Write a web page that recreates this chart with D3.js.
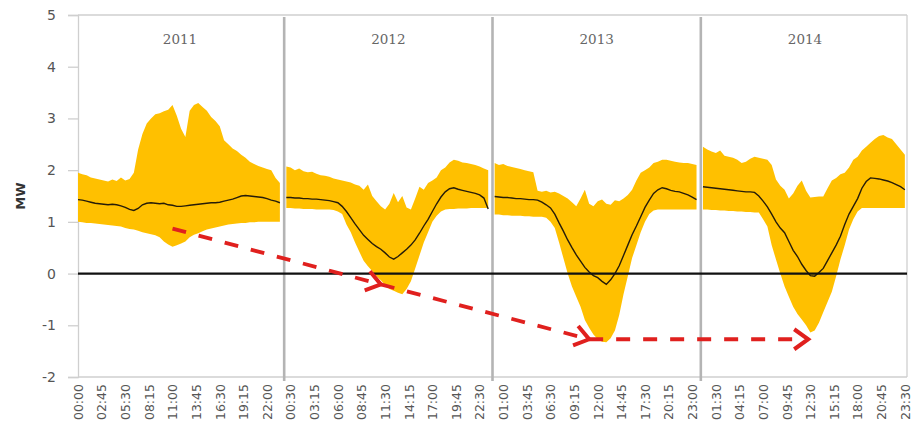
<!DOCTYPE html>
<html>
<head>
<meta charset="utf-8">
<script src="https://cdn.jsdelivr.net/npm/d3@7"></script>
<style>
  html, body { margin: 0; padding: 0; background: #fff; }
  svg { display: block; }
</style>
</head>
<body>
<svg id="chart" width="912" height="434"></svg>
<script>
// Daily net load profile per year: half-hourly max / mean / min (MW)
const years = ["2011", "2012", "2013", "2014"];

const max2011 = [1.95,1.92,1.90,1.86,1.84,1.82,1.80,1.78,1.82,1.79,1.86,1.80,1.83,1.95,2.40,2.70,
                 2.90,3.00,3.08,3.10,3.14,3.17,3.26,3.05,2.80,2.64,3.15,3.26,3.30,3.22,3.15,3.03,
                 2.95,2.85,2.58,2.50,2.42,2.37,2.30,2.24,2.16,2.12,2.08,2.05,2.02,2.00,1.85,1.75];
const mean2011 = [1.43,1.42,1.40,1.38,1.36,1.35,1.34,1.33,1.34,1.33,1.31,1.28,1.24,1.22,1.26,1.33,
                  1.36,1.37,1.36,1.35,1.36,1.33,1.32,1.30,1.30,1.31,1.32,1.33,1.34,1.35,1.36,1.37,
                  1.37,1.38,1.40,1.42,1.44,1.47,1.50,1.51,1.50,1.49,1.48,1.47,1.45,1.42,1.40,1.37];
const min2011 = [1.00,0.99,0.98,0.98,0.97,0.96,0.95,0.94,0.93,0.92,0.91,0.88,0.86,0.85,0.83,0.80,
                 0.78,0.76,0.74,0.70,0.62,0.56,0.52,0.55,0.58,0.62,0.70,0.75,0.78,0.82,0.85,0.87,
                 0.89,0.91,0.93,0.95,0.96,0.97,0.98,0.98,0.99,0.99,1.00,1.00,1.00,1.00,1.00,1.00];

const max2012 = [2.07,2.05,2.00,2.03,1.98,1.96,1.97,1.93,1.90,1.89,1.87,1.84,1.82,1.80,1.78,1.76,
                 1.72,1.70,1.62,1.72,1.50,1.40,1.30,1.24,1.35,1.56,1.38,1.50,1.28,1.24,1.45,1.68,
                 1.62,1.75,1.80,1.86,2.00,2.05,2.15,2.20,2.18,2.15,2.14,2.12,2.10,2.07,2.03,2.00];
const mean2012 = [1.47,1.47,1.46,1.46,1.45,1.45,1.44,1.44,1.43,1.42,1.41,1.39,1.37,1.30,1.20,1.08,
                  0.96,0.85,0.74,0.66,0.58,0.52,0.47,0.40,0.32,0.28,0.33,0.40,0.47,0.55,0.65,0.78,
                  0.92,1.05,1.20,1.35,1.48,1.58,1.64,1.66,1.63,1.61,1.59,1.57,1.55,1.52,1.46,1.25];
const min2012 = [1.27,1.27,1.26,1.26,1.25,1.25,1.25,1.24,1.24,1.24,1.24,1.23,1.20,1.15,0.95,0.80,
                 0.60,0.42,0.25,0.14,0.05,-0.05,-0.13,-0.22,-0.30,-0.33,-0.37,-0.40,-0.30,-0.15,0.10,0.35,
                 0.60,0.80,1.00,1.12,1.20,1.24,1.25,1.25,1.26,1.26,1.26,1.27,1.27,1.27,1.27,1.27];

const max2013 = [2.14,2.10,2.12,2.08,2.06,2.04,2.02,2.00,1.98,1.96,1.60,1.58,1.60,1.57,1.58,1.55,
                 1.50,1.45,1.38,1.30,1.45,1.62,1.35,1.30,1.40,1.43,1.35,1.33,1.42,1.40,1.45,1.52,
                 1.62,1.80,1.95,2.00,2.05,2.14,2.16,2.20,2.20,2.18,2.16,2.15,2.14,2.14,2.12,2.10];
const mean2013 = [1.49,1.48,1.47,1.47,1.46,1.45,1.45,1.44,1.43,1.43,1.42,1.38,1.33,1.27,1.15,0.98,
                  0.82,0.65,0.50,0.36,0.24,0.12,0.03,-0.04,-0.08,-0.15,-0.21,-0.12,0.00,0.15,0.35,0.55,
                  0.75,0.92,1.10,1.28,1.42,1.55,1.62,1.66,1.64,1.61,1.59,1.58,1.55,1.52,1.48,1.43];
const min2013 = [1.14,1.14,1.13,1.13,1.12,1.12,1.12,1.11,1.11,1.10,1.10,1.10,1.08,1.00,0.88,0.60,
                 0.30,0.00,-0.25,-0.45,-0.64,-0.90,-1.05,-1.18,-1.27,-1.32,-1.33,-1.25,-1.10,-0.80,-0.40,-0.05,
                 0.30,0.55,0.80,1.00,1.15,1.22,1.24,1.24,1.24,1.24,1.24,1.24,1.24,1.24,1.24,1.24];

const max2014 = [2.45,2.40,2.36,2.33,2.38,2.28,2.26,2.24,2.20,2.14,2.16,2.22,2.26,2.24,2.22,2.20,
                 2.10,1.82,1.70,1.62,1.45,1.55,1.70,1.80,1.60,1.47,1.48,1.49,1.49,1.65,1.80,1.85,
                 1.92,1.95,2.05,2.20,2.26,2.38,2.45,2.53,2.60,2.66,2.68,2.63,2.60,2.50,2.40,2.30];
const mean2014 = [1.68,1.67,1.66,1.65,1.64,1.63,1.62,1.61,1.60,1.59,1.58,1.58,1.57,1.50,1.40,1.29,
                  1.15,1.00,0.88,0.79,0.62,0.45,0.33,0.18,0.06,-0.04,-0.05,0.02,0.10,0.25,0.40,0.55,
                  0.72,0.95,1.15,1.30,1.45,1.65,1.78,1.85,1.84,1.83,1.81,1.79,1.76,1.72,1.68,1.62];
const min2014 = [1.24,1.24,1.23,1.23,1.22,1.22,1.21,1.21,1.20,1.20,1.19,1.19,1.18,1.18,1.05,0.91,
                 0.55,0.27,0.00,-0.25,-0.45,-0.64,-0.78,-0.89,-1.00,-1.14,-1.10,-0.95,-0.75,-0.55,-0.35,-0.05,
                 0.27,0.55,0.85,1.05,1.20,1.27,1.27,1.27,1.27,1.27,1.27,1.27,1.27,1.27,1.27,1.27];

const maxSeries  = [max2011, max2012, max2013, max2014];
const meanSeries = [mean2011, mean2012, mean2013, mean2014];
const minSeries  = [min2011, min2012, min2013, min2014];

// Category axis: 96 quarter-hour slots per year, plus one empty slot as separator
const slotsPerDay = 96;
const slotsPerPanel = 97;
const slotsPerSample = 2; // series are sampled every half hour
const tickEvery = 11;
const xTickLabels = ["00:00","02:45","05:30","08:15","11:00","13:45","16:30","19:15","22:00",
                     "00:30","03:15","06:00","08:45","11:30","14:15","17:00","19:45","22:30",
                     "01:00","03:45","06:30","09:15","12:00","14:45","17:30","20:15","23:00",
                     "01:30","04:15","07:00","09:45","12:30","15:15","18:00","20:45","23:30"];
const yTicks = [-2, -1, 0, 1, 2, 3, 4, 5];
const yLabel = "MW";

// Trend arrows: [year index, quarter-hour slot, MW]
const arrowStops = [[0, 44, 0.87], [1, 44, -0.21], [2, 44, -1.27], [3, 49, -1.27]];

(function draw() {
  const svg = d3.select("#chart");
  const plotL = 78, plotR = 907, plotT = 15, plotB = 377;
  const nSlots = slotsPerPanel * years.length - 1;

  const x = d3.scaleLinear().domain([0, nSlots - 1]).range([plotL, plotR]);
  const y = d3.scaleLinear().domain([-2, 5]).range([plotB, plotT]);
  const gx = (p, slot) => x(p * slotsPerPanel + slot);

  // Frame
  const frame = svg.append("g").attr("stroke", "#cfcfcf").attr("stroke-width", 1.3).attr("fill", "none");
  frame.append("line").attr("x1", plotL).attr("x2", plotR).attr("y1", plotT).attr("y2", plotT);
  frame.append("line").attr("x1", plotR).attr("x2", plotR).attr("y1", plotT).attr("y2", plotB);
  frame.append("line").attr("x1", plotL).attr("x2", plotR).attr("y1", plotB).attr("y2", plotB);

  // Y axis
  const yAxis = svg.append("g")
    .attr("transform", `translate(${plotL},0)`)
    .call(d3.axisLeft(y).tickValues(yTicks).tickSize(10).tickPadding(12).tickFormat(d => String(d)));
  yAxis.select(".domain").attr("stroke", "#cfcfcf").attr("stroke-width", 1.3);
  yAxis.selectAll(".tick line").attr("stroke", "#cfcfcf").attr("stroke-width", 1.3);
  yAxis.selectAll(".tick text")
    .attr("font-family", "DejaVu Sans, sans-serif").attr("font-size", 14).attr("fill", "#555");

  svg.append("text")
    .attr("transform", `translate(25,${(plotT + plotB) / 2}) rotate(-90)`)
    .attr("text-anchor", "middle")
    .attr("font-family", "DejaVu Sans, sans-serif").attr("font-size", 13).attr("font-weight", "bold")
    .attr("fill", "#333").text(yLabel);

  // X axis labels
  const tickSlots = xTickLabels.map((_, i) => i * tickEvery);
  const xAxis = svg.append("g")
    .attr("transform", `translate(0,${plotB})`)
    .call(d3.axisBottom(x).tickValues(tickSlots).tickSize(0).tickFormat((d, i) => xTickLabels[i]));
  xAxis.select(".domain").remove();
  xAxis.selectAll(".tick text")
    .attr("font-family", "DejaVu Sans, sans-serif").attr("font-size", 12.5).attr("fill", "#555")
    .attr("transform", "rotate(-90)")
    .attr("text-anchor", "end")
    .attr("dx", "-7").attr("dy", "0.35em").attr("y", 0).attr("x", 0);

  // Bands and mean lines
  const area = d3.area().x(d => d.x).y0(d => y(d.lo)).y1(d => y(d.hi));
  const line = d3.line().x(d => d.x).y(d => y(d.m));

  years.forEach((yr, p) => {
    const pts = maxSeries[p].map((hi, k) => ({
      x: gx(p, k * slotsPerSample),
      hi, lo: minSeries[p][k], m: meanSeries[p][k]
    }));
    svg.append("path").datum(pts).attr("d", area).attr("fill", "#FFC000");
    svg.append("path").datum(pts).attr("d", line)
      .attr("fill", "none").attr("stroke", "#261c08").attr("stroke-width", 1.4);
  });

  // Year separators
  years.slice(1).forEach((yr, i) => {
    const sx = gx(i, slotsPerDay);
    svg.append("line").attr("x1", sx).attr("x2", sx).attr("y1", plotT + 2).attr("y2", plotB + 4)
      .attr("stroke", "#b4b4b4").attr("stroke-width", 2.6);
  });

  // Year labels
  years.forEach((yr, p) => {
    const cx = (gx(p, 0) + gx(p, slotsPerDay - 1)) / 2;
    svg.append("text").attr("x", cx).attr("y", 44).attr("text-anchor", "middle")
      .attr("font-family", "DejaVu Serif, serif").attr("font-size", 13.5).attr("fill", "#666")
      .text(yr);
  });

  // Zero line
  svg.append("line").attr("x1", plotL).attr("x2", plotR).attr("y1", y(0)).attr("y2", y(0))
    .attr("stroke", "#111").attr("stroke-width", 2.2);

  // Dashed trend arrows with open chevron heads
  const red = "#e0201e";
  const defs = svg.append("defs");
  defs.append("marker")
    .attr("id", "chev").attr("markerUnits", "userSpaceOnUse")
    .attr("viewBox", "-20 -14 24 28").attr("refX", 0).attr("refY", 0)
    .attr("markerWidth", 24).attr("markerHeight", 28).attr("orient", "auto")
    .append("path").attr("d", "M-14,-10 L0,0 L-14,10")
    .attr("fill", "none").attr("stroke", red).attr("stroke-width", 4)
    .attr("stroke-linecap", "butt").attr("stroke-linejoin", "miter");

  for (let i = 0; i < arrowStops.length - 1; i++) {
    const a = arrowStops[i], b = arrowStops[i + 1];
    svg.append("line")
      .attr("x1", gx(a[0], a[1])).attr("y1", y(a[2]))
      .attr("x2", gx(b[0], b[1])).attr("y2", y(b[2]))
      .attr("stroke", red).attr("stroke-width", 3.8)
      .attr("stroke-dasharray", "14,13")
      .attr("marker-end", "url(#chev)");
  }
})();
</script>
</body>
</html>
